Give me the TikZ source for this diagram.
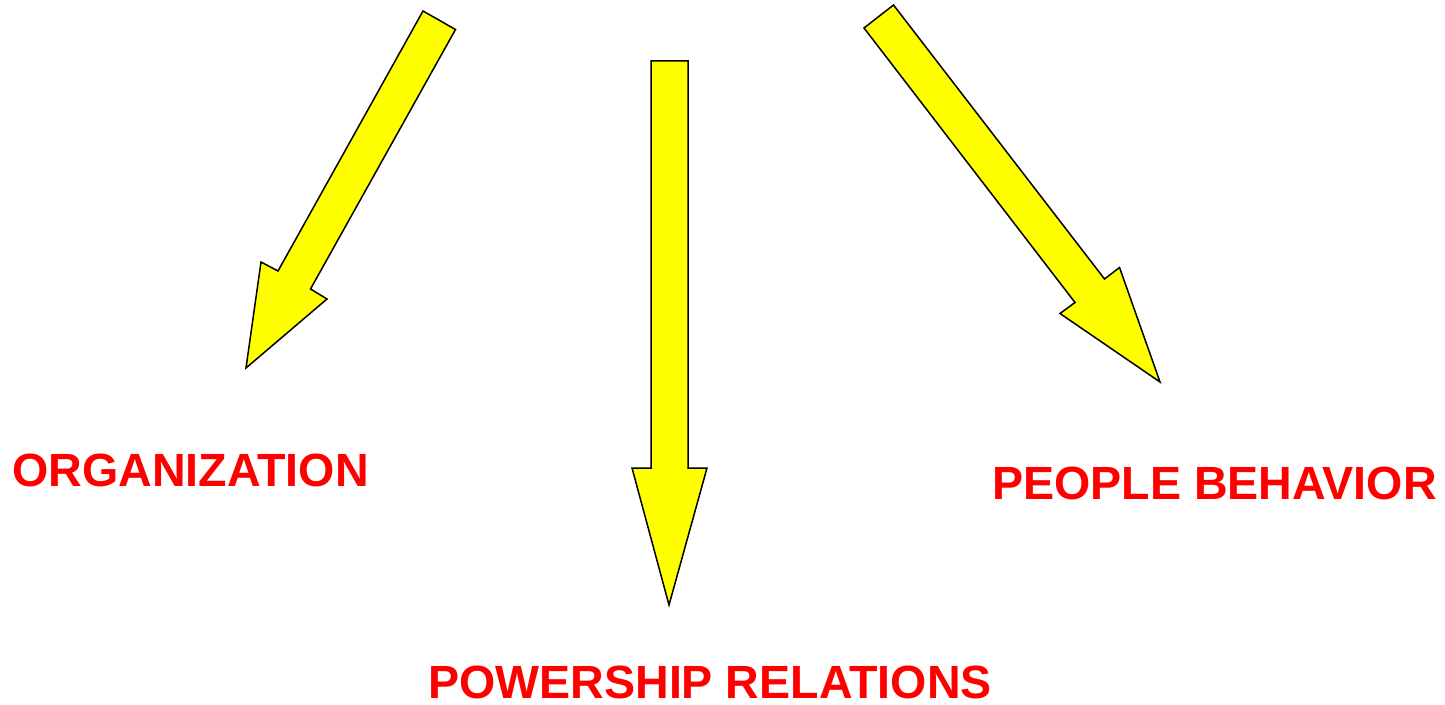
\documentclass[tikz,border=0pt]{standalone}
\usepackage{fontspec}
\setmainfont{Liberation Sans}
\usepackage{tikz}
\usetikzlibrary{positioning, calc}
\definecolor{arrowyellow}{RGB}{255,255,0}
\definecolor{labelred}{RGB}{255,0,0}

\begin{document}
\begin{tikzpicture}[
  x=0.5pt, y=-0.5pt,
  bigarrow/.style={draw=black,line width=0.75pt,fill=arrowyellow,line join=miter},
  caption/.style={text=labelred,font=\fontsize{23.3}{27}\selectfont\bfseries,inner sep=0pt}
]
  \useasboundingbox (0,0) rectangle (1445,705);
  % arrows
  \draw[bigarrow] (423,11) -- (455.5,29.5) -- (310.5,289) -- (327,299) -- (246,368)
    -- (261,262) -- (278,271) -- cycle;
  \draw[bigarrow] (651,61) -- (688,61) -- (688,468) -- (707,468) -- (669,605)
    -- (632,468) -- (651,468) -- cycle;
  \draw[bigarrow] (864,28) -- (893.5,5) -- (1104.5,279) -- (1119.5,267.5) -- (1160,382)
    -- (1060,313.5) -- (1075,302.5) -- cycle;
  % labels
  \node[caption] (org) at (190.5,470) {ORGANIZATION};
  \node[caption] (power) at (710,682) {POWERSHIP RELATIONS};
  \node[caption] (people) at (1214.5,483) {PEOPLE BEHAVIOR};
\end{tikzpicture}
\end{document}
